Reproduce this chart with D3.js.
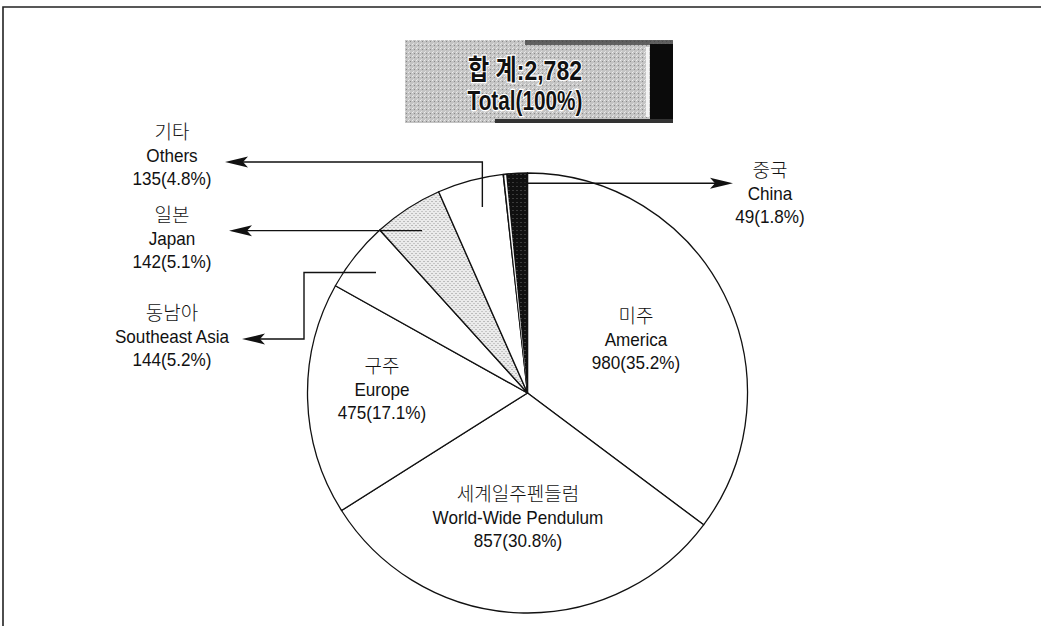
<!DOCTYPE html>
<html><head><meta charset="utf-8">
<script src="https://cdn.jsdelivr.net/npm/d3@7"></script>
<style>
html,body{margin:0;padding:0;background:#fff;}
svg{display:block;}
text{font-family:"Liberation Sans",Arial,"Noto Sans CJK KR",sans-serif;fill:#111;}
.ko{font-family:"Noto Sans CJK KR",sans-serif;font-weight:300;}
</style></head><body>
<svg id="chart" width="1041" height="626"></svg>
<script>
// ---- data ----
const regionsKo = ["미주","세계일주펜들럼","구주","동남아","일본","기타","중국"];
const regionsEn = ["America","World-Wide Pendulum","Europe","Southeast Asia","Japan","Others","China"];
const counts = [980, 857, 475, 144, 142, 135, 49];
const shares = ["35.2%","30.8%","17.1%","5.2%","5.1%","4.8%","1.8%"];
const totalLabelKo = "합 계:2,782";
const totalLabelEn = "Total(100%)";

// ---- layout ----
const W = 1041, H = 626;
const cx = 527.5, cy = 393, R = 220;
// label layout: [centerX, firstBaseline]
const labelPos = [[636,323],[518,501],[382,373],[172,320],[172,222],[172,139],[770,177]];

const svg = d3.select("#chart");
svg.append("rect").attr("width",W).attr("height",H).attr("fill","#fff");

// frame
svg.append("path").attr("d",`M3,${H} L3,7 L${W},7`).attr("fill","none").attr("stroke","#222").attr("stroke-width",1.6);

// defs: stipple patterns
const defs = svg.append("defs");
const pat = defs.append("pattern").attr("id","stip").attr("width",4).attr("height",4).attr("patternUnits","userSpaceOnUse");
pat.append("rect").attr("width",4).attr("height",4).attr("fill","#ebebeb");
pat.append("rect").attr("x",0).attr("y",0).attr("width",1).attr("height",1).attr("fill","#8a8a8a");
pat.append("rect").attr("x",2).attr("y",2).attr("width",1).attr("height",1).attr("fill","#a0a0a0");
const pat2 = defs.append("pattern").attr("id","stipDark").attr("width",4).attr("height",4).attr("patternUnits","userSpaceOnUse");
pat2.append("rect").attr("width",4).attr("height",4).attr("fill","#101010");
pat2.append("rect").attr("x",1).attr("y",1).attr("width",1).attr("height",1).attr("fill","#666");
const pat3 = defs.append("pattern").attr("id","stipBox").attr("width",4).attr("height",4).attr("patternUnits","userSpaceOnUse");
pat3.append("rect").attr("width",4).attr("height",4).attr("fill","#c4c4c4");
pat3.append("rect").attr("x",0).attr("y",0).attr("width",1).attr("height",1).attr("fill","#ececec");
pat3.append("rect").attr("x",2).attr("y",1).attr("width",1).attr("height",1).attr("fill","#8a8a8a");
pat3.append("rect").attr("x",1).attr("y",3).attr("width",1).attr("height",1).attr("fill","#e0e0e0");

const patFill = ["#fff","#fff","#fff","#fff","url(#stip)","#fff","url(#stipDark)"];

// ---- pie ----
const pie = d3.pie().sort(null).value(d => d)(counts);
const arc = d3.arc().innerRadius(0).outerRadius(R);
const g = svg.append("g").attr("transform",`translate(${cx},${cy})`);
g.selectAll("path.slice").data(pie).join("path")
  .attr("class","slice")
  .attr("d",arc)
  .attr("fill",(d,i)=>patFill[i])
  .attr("stroke","#111").attr("stroke-width",1.3).attr("stroke-linejoin","round");

// white separation inside china slice edge
const china = pie[6];
const sep = d3.arc().innerRadius(0).outerRadius(R-1)
  .startAngle(china.startAngle+0.004).endAngle(china.startAngle+0.013);
g.append("path").attr("d",sep()).attr("fill","#fff");

// ---- title box ----
const bx=405, by=40, bw=268, bh=83;
svg.append("rect").attr("x",bx).attr("y",by).attr("width",bw).attr("height",bh).attr("fill","url(#stipBox)");
svg.append("rect").attr("x",bx+120).attr("y",by).attr("width",bw-120).attr("height",5).attr("fill","#333").attr("opacity",0.7);
svg.append("rect").attr("x",650).attr("y",44).attr("width",23).attr("height",bh-4).attr("fill","#0b0b0b");
svg.append("rect").attr("x",646).attr("y",47).attr("width",3).attr("height",70).attr("fill","#f4f4f4");
svg.append("rect").attr("x",bx+90).attr("y",119).attr("width",bw-90).attr("height",4).attr("fill","#333");
const tt = svg.append("g").attr("font-weight","bold");
tt.append("text").attr("x",525).attr("y",80).attr("text-anchor","middle")
  .attr("font-size",28).attr("textLength",114).attr("lengthAdjust","spacingAndGlyphs")
  .style("font-family",'"Liberation Sans Narrow","Liberation Sans","Noto Sans CJK KR",sans-serif')
  .attr("stroke","#fff").attr("stroke-width",2.5).attr("paint-order","stroke").style("fill","#111")
  .text(totalLabelKo);
tt.append("text").attr("x",525).attr("y",110).attr("text-anchor","middle")
  .attr("font-size",28).attr("textLength",115).attr("lengthAdjust","spacingAndGlyphs")
  .style("font-family",'"Liberation Sans Narrow","Liberation Sans",sans-serif')
  .attr("stroke","#fff").attr("stroke-width",2.5).attr("paint-order","stroke").style("fill","#111")
  .text(totalLabelEn);

// ---- labels ----
const lab = svg.append("g");
function squeeze(sel, f){
  const n = sel.node(); const w = n.getComputedTextLength();
  sel.attr("textLength", w*f).attr("lengthAdjust","spacingAndGlyphs");
}
pie.forEach((d,i)=>{
  const [x,y] = labelPos[i];
  lab.append("text").attr("class","ko").attr("x",x).attr("y",y).attr("text-anchor","middle")
    .attr("font-size",19).text(regionsKo[i]);
  const t1 = lab.append("text").attr("x",x).attr("y",y+23).attr("text-anchor","middle")
    .attr("font-size",19).text(regionsEn[i]);
  squeeze(t1, 0.9);
  const t2 = lab.append("text").attr("x",x).attr("y",y+46).attr("text-anchor","middle")
    .attr("font-size",19).text(`${counts[i]}(${shares[i]})`);
  squeeze(t2, 0.9);
});

// ---- leader arrows ----
function anchor(i, rf, da){
  const a = (pie[i].startAngle+pie[i].endAngle)/2 + (da||0);
  return [cx + rf*R*Math.sin(a), cy - rf*R*Math.cos(a)];
}
function arrowHead(x,y,dir){ // dir -1 = pointing left, 1 = right
  const L=23, h=5.5, n=18;
  return `M${x},${y} L${x-dir*L},${y-h} L${x-dir*n},${y} L${x-dir*L},${y+h} Z`;
}
const lines = svg.append("g").attr("fill","none").attr("stroke","#111").attr("stroke-width",1.4);
const heads = svg.append("g").attr("fill","#111");
// Others (index 5)
{ const [ax,ay]=anchor(5,0.87,0.025); const yL=162, tip=225;
  lines.append("path").attr("d",`M${ax},${ay} L${ax},${yL} L${tip+18},${yL}`);
  heads.append("path").attr("d",arrowHead(tip,yL,-1)); }
// Japan (index 4)
{ const [ax,ay]=anchor(4,0.88); const tip=229;
  lines.append("path").attr("d",`M${ax},${ay} L${tip+18},${ay}`);
  heads.append("path").attr("d",arrowHead(tip,ay,-1)); }
// Southeast Asia (index 3)
{ const [ax,ay]=anchor(3,0.88); const xb=304, yL=339, tip=242;
  lines.append("path").attr("d",`M${ax},${ay} L${xb},${ay} L${xb},${yL} L${tip+18},${yL}`);
  heads.append("path").attr("d",arrowHead(tip,yL,-1)); }
// China (index 6)
{ const [ax,ay]=anchor(6,0.955); const tip=733;
  lines.append("path").attr("d",`M${ax},${ay} L${tip-18},${ay}`);
  heads.append("path").attr("d",arrowHead(tip,ay,1)); }
</script>
</body></html>
